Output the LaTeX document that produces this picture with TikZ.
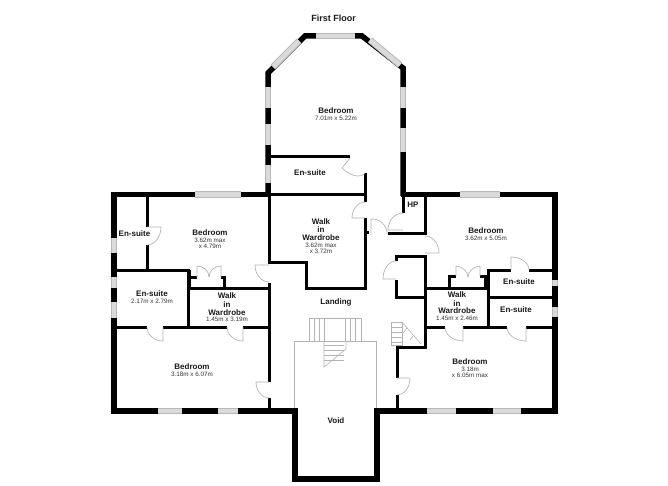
\documentclass[tikz,border=0pt]{standalone}
\usepackage{fontspec}
\setmainfont{Liberation Sans}
\usetikzlibrary{calc}
\definecolor{wingray}{HTML}{DADADA}
\definecolor{winedge}{HTML}{B8B8B8}
\definecolor{doorgray}{HTML}{B4B4B4}
\tikzset{
  wall/.style={line width=5.5pt,black,line cap=butt,line join=miter},
  twall/.style={line width=3pt,black,line cap=butt,line join=miter},
  winout/.style={line width=6.5pt,winedge},
  winin/.style={line width=4.5pt,wingray},
  door/.style={line width=.7pt,doorgray},
  stair/.style={line width=.6pt,doorgray},
  room/.style={font=\bfseries\fontsize{8}{8}\selectfont,inner sep=0pt,text=black!90},
  dims/.style={font=\fontsize{6.3}{6.3}\selectfont,inner sep=0pt,text=black!80}
}
\newcommand{\win}[4]{\draw[winout] (#1,#2) -- (#3,#4); \draw[winin] (#1,#2) -- (#3,#4);}
\newcommand{\doorleaf}[3]{\draw[door] (#1) -- (#2) .. controls ($(#2)+.55*(#3)-.55*(#1)$) and ($(#3)+.55*(#2)-.55*(#1)$) .. (#3);}
\begin{document}
\begin{tikzpicture}[x=1pt,y=-1pt]
\useasboundingbox[fill=white] (0,0) rectangle (668,486);
% void and stairs
\draw[stair] (294,411) -- (294,341) -- (376,341) -- (376,411);
\draw[stair] (309,318) rectangle (361,341);
\foreach \x in {314,319,324.5,345.5,350.5,355.5} \draw[stair] (\x,318) -- (\x,341);
\draw[stair] (324,341) -- (324,367) -- (346,349) -- (346,341);
\foreach \y in {345,350,355,360} \draw[stair] (324,\y) -- (344,\y);
\draw[stair] (391,322) rectangle (402,345);
\foreach \y in {327,332,337,342} \draw[stair] (391,\y) -- (402,\y);
\draw[stair] (402,322) -- (421,344);
\draw[stair] (407,328) -- (403,333);
\draw[stair] (414,335) -- (410,340);
% outer walls
\draw[wall] (268,195) -- (268,73) -- (305,36) -- (362,36) -- (403,68) -- (403,196);
\draw[wall] (401,194.5) -- (555,194.5) -- (555,411) -- (374.5,411);
\draw[wall] (377,408) -- (377,479) -- (295,479) -- (295,408);
\draw[wall] (298,411) -- (114,411) -- (114,194.5) -- (271,194.5);
% inner walls
\draw[twall] (268,157) -- (350,157);
\draw[twall] (365,173) -- (365,202);
\draw[twall] (365,218) -- (365,288) -- (306,288) -- (306,262) -- (269,262) -- (269,195);
\draw[twall] (269,195) -- (365,195);
\draw[twall] (367,232) -- (369,232);
\draw[twall] (403,194) -- (403,213);
\draw[twall] (425,194) -- (425,233) -- (388,233);
\draw[twall] (396,261) -- (396,256) -- (425,256) -- (425,347) -- (397,347) -- (397,378);
\draw[twall] (396,280) -- (396,297) -- (425,297);
\draw[twall] (397,395) -- (397,411);
% right group
\draw[twall] (425,288) -- (488,288);
\draw[twall] (425,327) -- (445,327);
\draw[twall] (463,327) -- (507,327);
\draw[twall] (526,327) -- (553,327);
\draw[twall] (488,327) -- (488,270) -- (511,270);
\draw[twall] (529,270) -- (553,270);
\draw[twall] (488,297) -- (553,297);
\draw[twall] (449,288) -- (449,276) -- (456,276);
\draw[twall] (480,276) -- (488,276);
\draw[line width=4pt] (486,276) -- (486,288);
% left group
\draw[twall] (147,196) -- (147,227);
\draw[twall] (147,245) -- (147,270);
\draw[twall] (114,270) -- (188,270) -- (188,327);
\draw[line width=4pt] (189,270) -- (189,288);
\draw[twall] (188,277) -- (197,277);
\draw[twall] (221,277) -- (224,277) -- (224,288);
\draw[twall] (188,288) -- (269,288);
\draw[twall] (269,283) -- (269,382);
\draw[twall] (269,398) -- (269,411);
\draw[twall] (114,327) -- (147,327);
\draw[twall] (163,327) -- (227,327);
\draw[twall] (243,327) -- (269,327);
% windows
\win{316}{36}{355}{36}
\win{299}{41}{273}{67}
\win{370}{40}{400}{65}
\win{268}{87}{268}{108}
\win{268}{124}{268}{145}
\win{268}{165}{268}{183}
\win{403}{87}{403}{108}
\win{403}{128}{403}{152}
\win{195}{194.5}{241}{194.5}
\win{460}{194.5}{500}{194.5}
\win{114}{238}{114}{253}
\win{114}{277}{114}{288}
\win{114}{302}{114}{318}
\win{555}{280}{555}{286}
\win{555}{307}{555}{317}
\win{158}{411}{182}{411}
\win{218}{411}{238}{411}
\win{427}{411}{456}{411}
\win{493}{411}{521}{411}
% doors
\doorleaf{350,158}{342,168}{365,173}
\doorleaf{365,218}{352,218}{365,202}
\doorleaf{371,235}{371,219}{387,234}
\doorleaf{403,230}{388,230}{403,213}
\doorleaf{425,253}{439,253}{425,236}
\doorleaf{396,279}{383,279}{396,261}
\doorleaf{456,276}{456,266}{468,277}
\doorleaf{480,276}{480,266}{468,277}
\doorleaf{511,270}{511,257}{529,270}
\doorleaf{463,327}{463,341}{445,327}
\doorleaf{526,327}{526,341}{507,327}
\doorleaf{397,378}{410,378}{397,395}
\doorleaf{147,227}{161,227}{147,245}
\doorleaf{197,277}{197,266}{209,277}
\doorleaf{221,277}{221,266}{209,277}
\doorleaf{269,265}{255,265}{269,282}
\doorleaf{163,327}{163,341}{147,327}
\doorleaf{243,327}{243,341}{227,327}
\doorleaf{269,382}{256,382}{269,398}
% labels
\node[room,font=\bfseries\fontsize{9}{9}\selectfont] (title) at (333.5,18.5) {First Floor};
\node[room] (r1) at (336,111) {Bedroom};
\node[dims] (d1) at (336,118.5) {7.01m x 5.22m};
\node[room] (r2) at (310,173) {En-suite};
\node[room] (r3a) at (321,222) {Walk};
\node[room] (r3b) at (321,230) {in};
\node[room] (r3c) at (321,238) {Wardrobe};
\node[dims] (d3a) at (321,245) {3.62m max};
\node[dims] (d3b) at (321,251.5) {x 3.72m};
\node[room] (r4) at (210,233) {Bedroom};
\node[dims] (d4a) at (210,240) {3.62m max};
\node[dims] (d4b) at (210,246.5) {x 4.79m};
\node[room] (r5) at (134.5,234) {En-suite};
\node[room] (r6) at (152,294) {En-suite};
\node[dims] (d6) at (152,301) {2.17m x 2.79m};
\node[room] (r7a) at (227,296) {Walk};
\node[room] (r7b) at (227,304.5) {in};
\node[room] (r7c) at (227,312.5) {Wardrobe};
\node[dims] (d7) at (227,319) {1.45m x 3.19m};
\node[room] (r8) at (192,367) {Bedroom};
\node[dims] (d8) at (192,374.5) {3.18m x 6.07m};
\node[room] (r9) at (336,302) {Landing};
\node[room] (r10) at (336,421) {Void};
\node[room] (r11) at (413,205) {HP};
\node[room] (r12) at (486,231) {Bedroom};
\node[dims] (d12) at (486,238) {3.62m x 5.05m};
\node[room] (r13) at (519,282) {En-suite};
\node[room] (r14a) at (457,295) {Walk};
\node[room] (r14b) at (457,303.5) {in};
\node[room] (r14c) at (457,311) {Wardrobe};
\node[dims] (d14) at (457,318) {1.45m x 2.46m};
\node[room] (r15) at (516,310) {En-suite};
\node[room] (r16) at (470,362) {Bedroom};
\node[dims] (d16a) at (470,369) {3.18m};
\node[dims] (d16b) at (470,375.5) {x 6.05m max};
\end{tikzpicture}
\end{document}
